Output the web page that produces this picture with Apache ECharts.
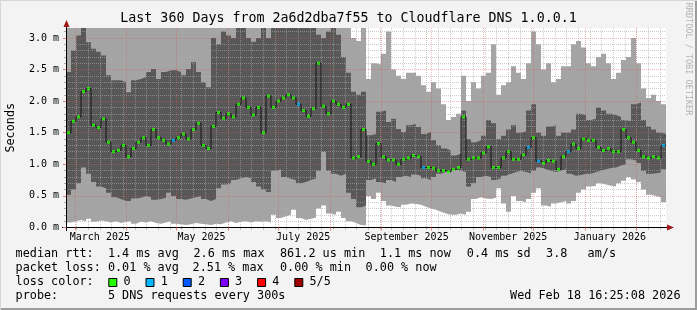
<!DOCTYPE html>
<html><head><meta charset="utf-8">
<script src="https://cdn.jsdelivr.net/npm/echarts@6/dist/echarts.min.js"></script>
<style>html,body{margin:0;padding:0;background:#f3f3f3}#c{width:697px;height:310px}</style>
</head><body><div id="c"></div><script>
// ---- data (ms), one value per 3-day column, from 2025-02-23 16:25 UTC ----
const startTime = Date.UTC(2025, 1, 23, 16, 25);
const endTime = Date.UTC(2026, 1, 18, 16, 25);
const stepDays = 3;
const pingMin = [
 0.08,0.1,0.12,0.1,0.14,0.09,0.11,0.1,0.08,0.1,0.07,0.09,0.1,0.06,0.09,0.08,0.1,0.07,0.06,0.08,
 0.1,0.06,0.05,0.04,0.05,0.07,0.06,0.05,0.04,0.06,0.05,0.08,0.1,0.07,0.09,0.1,0.08,0.1,0.09,0.1,
 0.08,0.2,0.15,0.18,0.2,0.28,0.15,0.12,0.14,0.16,0.3,0.35,0.22,0.2,0.25,0.15,0.1,0.07,0.04,0.03,
 0.5,0.45,0.55,0.42,0.35,0.33,0.32,0.36,0.38,0.37,0.36,0.33,0.3,0.28,0.25,0.22,0.2,0.2,0.22,0.2,
 0.25,0.45,0.48,0.46,0.45,0.47,0.62,0.38,0.25,0.5,0.42,0.4,0.45,0.55,0.62,0.35,0.33,0.38,0.4,0.42,
 0.38,0.42,0.55,0.6,0.65,0.66,0.7,0.68,0.66,0.65,0.7,0.74,0.8,0.76,0.72,0.6,0.52,0.5,0.48,0.4];
const pingLow = [
 0.52,0.6,0.7,0.95,0.85,0.72,0.65,0.62,0.55,0.48,0.45,0.42,0.42,0.46,0.47,0.5,0.48,0.44,0.45,0.47,
 0.55,0.5,0.45,0.44,0.46,0.48,0.5,0.45,0.42,0.45,0.62,0.68,0.7,0.75,0.78,0.8,0.78,0.72,0.65,0.6,
 0.56,0.9,0.92,0.8,0.77,0.75,0.7,0.72,0.75,0.78,0.9,1.2,0.9,0.85,0.82,0.85,0.55,0.45,0.32,0.35,
 0.75,0.78,0.72,0.7,0.75,0.72,0.8,0.82,0.8,0.84,0.82,0.78,0.75,0.8,0.85,0.88,0.9,0.92,0.9,0.88,
 0.65,0.7,0.8,0.82,0.8,0.75,0.78,0.82,0.85,0.88,0.9,0.88,0.86,0.9,0.95,0.92,0.9,0.88,0.9,0.92,
 0.85,0.82,0.83,0.85,0.85,0.88,0.9,0.92,0.94,0.95,0.98,1.0,1.08,1.06,1.02,0.9,0.85,0.86,0.87,0.92];
const median = [
 1.5,1.68,1.75,2.15,2.2,1.62,1.58,1.72,1.35,1.2,1.22,1.3,1.12,1.25,1.35,1.42,1.3,1.55,1.42,1.38,
 1.32,1.38,1.42,1.48,1.4,1.55,1.65,1.3,1.25,1.6,1.82,1.73,1.8,1.75,1.95,2.05,1.9,1.78,1.9,1.5,
 2.08,1.9,2.0,2.05,2.1,2.05,1.95,1.85,1.76,1.88,2.6,1.92,1.8,2.0,1.95,1.9,1.95,1.1,1.12,1.55,
 1.05,1.0,1.33,1.12,1.07,1.07,1.0,1.08,1.1,1.14,1.12,0.95,0.95,0.94,0.9,0.9,0.88,0.92,0.95,1.75,
 1.08,1.1,1.1,1.18,1.28,0.95,0.95,1.1,1.2,1.08,1.08,1.15,1.27,1.42,1.05,1.02,1.06,1.05,0.92,1.12,
 1.2,1.32,1.25,1.4,1.38,1.38,1.27,1.22,1.25,1.2,1.2,1.55,1.42,1.35,1.22,1.12,1.1,1.12,1.1,1.3];
const pingHigh = [
 2.46,2.8,3.04,3.3,2.93,2.83,2.78,2.72,2.41,2.33,2.33,2.3,2.14,2.33,2.35,2.38,2.46,2.51,2.35,2.46,
 2.49,2.49,2.46,2.41,2.51,2.62,2.46,2.3,2.22,3.0,2.9,3.1,3.04,3.0,3.3,3.3,3.0,2.94,3.0,3.3,
 3.0,3.3,3.3,3.3,3.3,3.3,3.3,3.3,3.3,3.3,3.05,3.0,3.1,3.2,3.05,2.7,2.45,2.15,2.1,2.15,
 1.46,1.48,1.83,1.85,1.67,1.72,1.56,1.51,1.62,1.64,1.59,1.48,1.51,1.38,1.3,1.25,1.22,1.14,1.17,1.85,
 1.4,1.35,1.38,1.45,1.7,1.65,1.4,1.45,1.55,1.62,1.5,1.52,1.85,1.95,1.5,1.45,1.6,1.62,1.45,1.5,
 1.5,1.55,1.8,1.78,1.7,1.72,1.9,1.85,1.8,1.78,1.75,1.7,1.68,1.95,1.98,1.7,1.6,1.55,1.5,1.48];
const pingMax = [
 3.5,3.5,3.5,3.5,3.5,3.5,3.5,3.5,3.5,3.5,3.5,3.5,3.5,3.5,3.5,3.5,3.5,3.5,3.5,3.5,
 3.5,3.5,3.5,3.5,3.5,3.5,3.5,3.5,3.5,3.5,3.5,3.5,3.5,3.5,3.5,3.5,3.5,3.5,3.5,3.5,
 3.5,3.5,3.5,3.5,3.5,3.5,3.5,3.5,3.5,3.5,3.5,3.5,3.5,3.5,3.5,3.5,3.5,3.0,2.95,3.2,
 2.35,2.6,2.58,2.75,3.1,2.5,2.4,2.35,2.45,2.45,2.4,2.25,2.15,2.3,2.2,1.95,1.7,1.75,1.8,2.4,
 2.0,2.3,2.2,2.4,2.45,2.9,2.1,2.25,2.3,2.55,2.45,2.35,2.6,3.1,2.9,2.5,2.6,2.3,2.35,2.55,
 2.55,2.9,2.95,2.85,2.6,2.55,2.7,2.75,2.6,2.35,2.45,2.65,2.7,3.0,2.6,2.2,2.05,2.1,2.0,1.95];
// lost pings (of 5) per column
const lossCount = [
 0,0,0,0,0,0,0,0,0,0,0,0,0,0,0,0,0,0,0,0,
 0,1,0,0,0,0,0,0,0,0,0,0,0,0,0,0,0,0,0,0,
 0,0,0,0,0,0,1,0,0,0,0,0,0,0,0,0,0,0,0,0,
 0,0,0,0,0,0,0,0,0,0,0,1,0,0,0,0,0,0,0,0,
 0,0,0,0,0,0,0,0,0,0,0,0,1,0,1,0,0,0,0,0,
 1,0,0,0,0,0,0,0,0,0,0,0,0,0,0,0,0,0,0,1];
const monthLabels = ['March 2025','May 2025','July 2025','September 2025','November 2025','January 2026'];
const monthLabelDates = [[2025,2],[2025,4],[2025,6],[2025,8],[2025,10],[2026,0]];
const yTickValues = [0, 0.5, 1.0, 1.5, 2.0, 2.5, 3.0];
const lossColors = ['#26ff00','#00b8ff','#0059ff','#7e00ff','#ff0000','#a10000'];
const lossNames = ['0','1','2','3','4','5/5'];
const statsRtt = ['median rtt:','1.4 ms avg','2.6 ms max','861.2 us min','1.1 ms now','0.4 ms sd','3.8','am/s'];
const statsLoss = ['packet loss:','0.01 % avg','2.51 % max','0.00 % min','0.00 % now'];
const probeText = ['probe:','5 DNS requests every 300s','Wed Feb 18 16:25:08 2026'];
const titleText = 'Last 360 Days from 2a6d2dba7f55 to Cloudflare DNS 1.0.0.1';

// ---- build ----
const DAY = 86400000;
const n = median.length;
const colStart = i => startTime + i * stepDays * DAY;
function stepData(vals) {
  const d = vals.map((v, i) => [colStart(i), v]);
  d.push([colStart(n), vals[n - 1]]);
  return d;
}
const dots = median.map((v, i) => ({
  value: [colStart(i) + stepDays * DAY / 2, v],
  itemStyle: { color: lossColors[lossCount[i]] }
}));
// grid helpers
const sundays = [];
for (let t = Date.UTC(2025, 2, 2); t < endTime; t += 7 * DAY) sundays.push(t);
const monthStarts = [];
for (let k = 0; k < 12; k++) monthStarts.push(Date.UTC(2025, 2 + k, 1));
const labelTimes = monthLabelDates.map(d => Date.UTC(d[0], d[1], 16));
const labelMap = {}; labelTimes.forEach((t, k) => labelMap[t] = monthLabels[k]);
const yMinor = [];
for (let k = 1; k <= 31; k++) if (k % 5) yMinor.push(k / 10);

const MONO = '"DejaVu Sans Mono", monospace';
const yMax = 3.157;
const MAJOR = 'rgba(222,79,79,0.42)';
const MINOR = 'rgba(170,170,170,0.6)';
// each smoke layer filled from the axis floor; drawn top layer first, lower layers paint over
const smoke = (name, data, color) => ({
  type: 'line', name, step: 'end', data: stepData(data), symbol: 'none',
  lineStyle: { width: 0 }, areaStyle: { color, opacity: 1, origin: 'start' },
  z: 1, silent: true, clip: true
});

const texts = [];
function txt(x, y, s, extra) {
  texts.push({ type: 'text', x, y, silent: true,
    style: Object.assign({ text: s, font: '11.8px ' + MONO, fill: '#000', verticalAlign: 'middle' }, extra || {}) });
}
txt(348.5, 18.5, titleText, { font: '13.3px ' + MONO, align: 'center' });
texts.push({ type: 'text', x: 10.5, y: 127.75, rotation: Math.PI / 2, silent: true,
  style: { text: 'Seconds', font: '11.8px ' + MONO, fill: '#000', align: 'center', verticalAlign: 'middle' } });
texts.push({ type: 'text', x: 688.5, y: 59, rotation: -Math.PI / 2, silent: true,
  style: { text: 'RRDTOOL / TOBI OETIKER', font: '8.5px ' + MONO, fill: '#b4b4b4', align: 'center', verticalAlign: 'middle' } });
const rttX = [15.6, 107.9, 193.5, 280, 379.8, 466.8, 546.1, 587.6];
statsRtt.forEach((s, k) => txt(rttX[k], 254.3, s));
const lossX = [15.6, 107.9, 192.6, 280, 365.6];
statsLoss.forEach((s, k) => txt(lossX[k], 268.3, s));
txt(15.6, 282.3, 'loss color:');
lossNames.forEach((s, k) => {
  const x0 = 108.3 + k * 37.2;
  texts.push({ type: 'rect', silent: true, shape: { x: x0 + 0.5, y: 278.5, width: 8, height: 8 },
    style: { fill: lossColors[k], stroke: '#000', lineWidth: 1 } });
  txt(x0 + 15.2, 282.3, s);
});
txt(15.6, 296, probeText[0]);
txt(107.9, 296, probeText[1]);
txt(680.5, 296, probeText[2], { align: 'right' });
// frame & axis arrows
const deco = [
  { type: 'rect', shape: { x: 695, y: 0, width: 2, height: 310 }, style: { fill: '#9c9c9c' }, silent: true },
  { type: 'rect', shape: { x: 0, y: 308, width: 697, height: 2 }, style: { fill: '#9c9c9c' }, silent: true },
  { type: 'rect', shape: { x: 0, y: 0, width: 697, height: 1 }, style: { fill: '#d6d6d6' }, silent: true },
  { type: 'rect', shape: { x: 0, y: 0, width: 1, height: 310 }, style: { fill: '#d6d6d6' }, silent: true },
  { type: 'line', shape: { x1: 66.5, y1: 28, x2: 66.5, y2: 23 }, style: { stroke: '#000', lineWidth: 1 }, silent: true },
  { type: 'line', shape: { x1: 66.5, y1: 227.5, x2: 66.5, y2: 231 }, style: { stroke: '#000', lineWidth: 1 }, silent: true },
  { type: 'line', shape: { x1: 62, y1: 227.5, x2: 66, y2: 227.5 }, style: { stroke: '#000', lineWidth: 1 }, silent: true },
  { type: 'line', shape: { x1: 666, y1: 227.5, x2: 670, y2: 227.5 }, style: { stroke: '#000', lineWidth: 1 }, silent: true },
  { type: 'polygon', shape: { points: [[63.5, 27], [69.5, 27], [66.5, 20]] }, style: { fill: '#a31515' }, silent: true },
  { type: 'polygon', shape: { points: [[667, 224.5], [667, 230.5], [674, 227.5]] }, style: { fill: '#a31515' }, silent: true }
];

const chart = echarts.init(document.getElementById('c'), null, { renderer: 'canvas' });
chart.setOption({
  animation: false,
  backgroundColor: '#f3f3f3',
  grid: { left: 66, top: 28, width: 600, height: 199.5, show: true, backgroundColor: '#ffffff', borderWidth: 0 },
  xAxis: [
    { type: 'value', min: startTime, max: endTime, position: 'bottom', z: 3,
      axisLine: { show: true, onZero: false, lineStyle: { color: '#000', width: 1 } },
      axisTick: { show: true, customValues: monthStarts, length: 3, lineStyle: { color: '#e08080' } },
      axisLabel: { customValues: labelTimes, formatter: v => labelMap[v] || '', color: '#000',
        fontFamily: MONO, fontSize: 10, margin: 5 },
      splitLine: { show: true, lineStyle: { color: MAJOR, width: 1, type: [1, 1] } } },
    { type: 'value', min: startTime, max: endTime, position: 'bottom', z: 2.5,
      axisLine: { show: false }, axisLabel: { show: false },
      axisTick: { show: true, customValues: sundays, length: 2, lineStyle: { color: '#aaa' } },
      splitLine: { show: true, lineStyle: { color: MINOR, width: 1, type: [1, 1] } } }
  ],
  yAxis: [
    { type: 'value', min: 0, max: yMax, position: 'left', z: 3,
      axisLine: { show: true, onZero: false, lineStyle: { color: '#000', width: 1 } },
      axisTick: { show: true, customValues: yTickValues, length: 3, lineStyle: { color: '#e08080' } },
      axisLabel: { customValues: yTickValues, formatter: v => v.toFixed(1) + ' m', color: '#000',
        fontFamily: MONO, fontSize: 10, margin: 7 },
      splitLine: { show: true, lineStyle: { color: MAJOR, width: 1, type: [1, 1] } } },
    { type: 'value', min: 0, max: yMax, position: 'left', z: 2.5,
      axisLine: { show: false }, axisLabel: { show: false },
      axisTick: { show: true, customValues: yMinor, length: 2, lineStyle: { color: '#aaa' } },
      splitLine: { show: true, lineStyle: { color: MINOR, width: 1, type: [1, 1] } } }
  ],
  series: [
    smoke('max', pingMax, '#a4a4a4'),
    smoke('high', pingHigh, '#585858'),
    smoke('low', pingLow, '#a4a4a4'),
    smoke('min', pingMin, '#ffffff'),
    { type: 'line', name: 'median', step: 'end', data: stepData(median), symbol: 'none',
      lineStyle: { color: '#141414', width: 1 }, z: 5, silent: true },
    { type: 'scatter', name: 'loss', data: dots, symbol: 'rect', symbolSize: [3, 3], z: 6, silent: true }
  ],
  graphic: deco.concat(texts)
});
</script></body></html>
